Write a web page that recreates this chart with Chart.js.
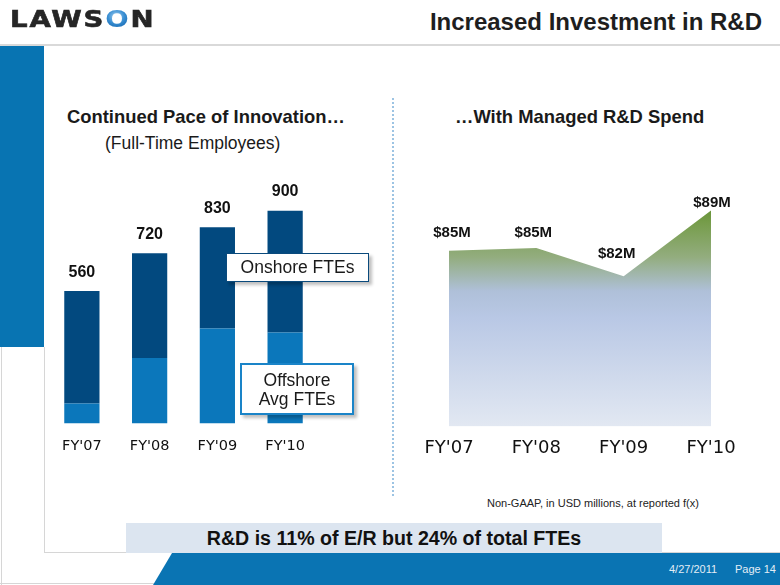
<!DOCTYPE html>
<html>
<head>
<meta charset="utf-8">
<script src="https://cdn.jsdelivr.net/npm/chart.js@4.4.0/dist/chart.umd.min.js"></script>
<style>
  html, body { margin: 0; padding: 0; }
  body { width: 780px; height: 585px; position: relative; overflow: hidden; background: #fff;
         font-family: "Liberation Sans", Arial, sans-serif; color: #1a1a1a; }
  .abs { position: absolute; }
  #logo { left: 10px; top: 6px; font: bold 23px "DejaVu Sans", sans-serif; letter-spacing: 1.5px; color: #262626;
          -webkit-text-stroke: 0.6px #262626; transform: scaleX(1.2); transform-origin: 0 0; }
  #logo span { background: radial-gradient(circle at 45% 40%, #a9d3f2 0%, #3a8fd3 35%, #1467b0 65%, #0b4d8c 100%);
               -webkit-background-clip: text; background-clip: text; color: transparent; -webkit-text-stroke: 0; }
  #title { right: 18px; top: 8px; font: bold 24px "Liberation Sans", Arial, sans-serif; color: #1e1e1e; }
  #hline { left: 0; top: 44px; width: 780px; height: 2px; background: #d9d9d9; }
  #sidebar { left: 0; top: 46px; width: 44px; height: 301px; background: #0874b2; }
  .gline { background: #d6d6d6; }
  #divider { left: 392px; top: 98px; height: 398px; border-left: 2px dotted #9dc4e3; }
  .head { font: bold 18.4px "Liberation Sans", Arial, sans-serif; color: #1a1a1a; }
  .box { background: #fff; text-align: center; font: 17.5px "Liberation Sans", Arial, sans-serif; color: #1a1a1a;
         box-shadow: 3px 3px 3px rgba(0,0,0,0.25); box-sizing: border-box; }
  #banner { left: 126px; top: 523px; width: 536px; height: 30px; background: #dce5f0; text-align: center;
            font: bold 19.6px "Liberation Sans", Arial, sans-serif; line-height: 31px; color: #111; }
  #footer { left: 150px; top: 553px; width: 630px; height: 32px; background: #0a74b3;
            clip-path: polygon(22px 0, 100% 0, 100% 100%, 3px 100%); }
  .foot { top: 563px; font: 11px "Liberation Sans", Arial, sans-serif; color: #e3edf6; }
</style>
</head>
<body>
<div id="logo" class="abs">LAWS<span>O</span>N</div>
<div id="title" class="abs">Increased Investment in R&amp;D</div>
<div id="hline" class="abs"></div>
<div id="sidebar" class="abs"></div>
<div class="abs gline" style="left:1px;top:347px;width:1px;height:238px"></div>
<div class="abs gline" style="left:44px;top:347px;width:1px;height:206px"></div>
<div class="abs gline" style="left:44px;top:552px;width:736px;height:1px"></div>
<div class="abs gline" style="left:0;top:583px;width:155px;height:1px"></div>
<div id="divider" class="abs"></div>

<div class="abs head" style="left:67px;top:106px">Continued Pace of Innovation…</div>
<div class="abs" style="left:105px;top:133px;font:17.5px 'Liberation Sans',Arial,sans-serif">(Full-Time Employees)</div>
<div class="abs head" style="left:455px;top:106px">…With Managed R&amp;D Spend</div>

<canvas id="fteChart" class="abs" width="310" height="325" style="left:30px;top:150px"></canvas>
<canvas id="spendChart" class="abs" width="360" height="314" style="left:400px;top:160px"></canvas>

<div class="abs box" style="left:226px;top:253px;width:143px;height:29px;line-height:27px;border:1.5px solid #0a4a7c">Onshore FTEs</div>
<div class="abs box" style="left:240px;top:363px;width:114px;height:52px;line-height:19px;padding-top:6px;border:2px solid #1a84c8">Offshore<br>Avg FTEs</div>

<div class="abs" style="left:487px;top:497px;font:11px 'Liberation Sans',Arial,sans-serif;color:#222">Non-GAAP, in USD millions, at reported f(x)</div>

<div id="footer" class="abs"></div>
<div id="banner" class="abs">R&amp;D is 11% of E/R but 24% of total FTEs</div>
<div class="abs foot" style="left:669px">4/27/2011</div>
<div class="abs foot" style="left:735px">Page 14</div>

<script>
/* ─── Data ─── */
const YEARS         = ["FY'07", "FY'08", "FY'09", "FY'10"];
const OFFSHORE_FTES = [85, 277, 402, 385];
const ONSHORE_FTES  = [475, 443, 428, 515];
const RD_SPEND      = [84.7, 85.0, 82.0, 89.0];   // USD millions

/* ─── Totals above the stacked bars ─── */
const totalsPlugin = {
  id: 'totals',
  afterDatasetsDraw(chart) {
    const { ctx } = chart;
    const top = chart.getDatasetMeta(chart.data.datasets.length - 1);
    ctx.save();
    ctx.font = 'bold 16px "Liberation Sans", Arial, sans-serif';
    ctx.fillStyle = '#111';
    ctx.textAlign = 'center';
    ctx.textBaseline = 'middle';
    top.data.forEach((bar, i) => {
      const total = chart.data.datasets.reduce((s, d) => s + d.data[i], 0);
      ctx.fillText(total, bar.x, bar.y - 19);
    });
    ctx.restore();
  },
};

/* ─── Value labels on the spend area ─── */
const spendLabels = {
  id: 'spendLabels',
  afterDatasetsDraw(chart, args, opts) {
    const { ctx } = chart;
    const meta = chart.getDatasetMeta(0);
    ctx.save();
    ctx.font = 'bold 15px "Liberation Sans", Arial, sans-serif';
    ctx.fillStyle = '#111';
    ctx.textAlign = 'center';
    ctx.textBaseline = 'middle';
    meta.data.forEach((pt, i) => {
      const v = chart.data.datasets[0].data[i];
      ctx.fillText('$' + Math.round(v) + 'M', pt.x + opts.dx[i], pt.y - opts.dy[i]);
    });
    ctx.restore();
  },
};

function spendGradient(context) {
  const { chart } = context;
  const area = chart.chartArea;
  if (!area) return '#b6c6e4';
  const g = chart.ctx.createLinearGradient(0, area.top, 0, area.bottom);
  g.addColorStop(0.00, '#5f8f2c');
  g.addColorStop(0.10, '#779d4c');
  g.addColorStop(0.25, '#93ad7f');
  g.addColorStop(0.40, '#afc0d9');
  g.addColorStop(0.52, '#b9c8e5');
  g.addColorStop(1.00, '#e2e8f2');
  return g;
}

/* ─── FTE stacked bars ─── */
new Chart(document.getElementById('fteChart'), {
  type: 'bar',
  data: {
    labels: YEARS,
    datasets: [
      { label: 'Offshore Avg FTEs', data: OFFSHORE_FTES, backgroundColor: '#0b77bb' },
      { label: 'Onshore FTEs',      data: ONSHORE_FTES,  backgroundColor: '#02497f' },
    ],
  },
  options: {
    responsive: false,
    animation: false,
    layout: { padding: { left: 18, right: 21, top: 37, bottom: 6 } },
    datasets: { bar: { categoryPercentage: 1, barPercentage: 0.52 } },
    plugins: { legend: { display: false }, tooltip: { enabled: false } },
    scales: {
      x: {
        stacked: true,
        grid: { display: false, drawTicks: false },
        border: { display: false },
        ticks: { font: { family: 'DejaVu Sans', size: 14.5 }, color: '#111', padding: 14 },
      },
      y: { stacked: true, display: false, min: 0, max: 1000 },
    },
  },
  plugins: [totalsPlugin],
});

/* ─── R&D spend area ─── */
new Chart(document.getElementById('spendChart'), {
  type: 'line',
  data: {
    labels: YEARS,
    datasets: [{
      data: RD_SPEND,
      fill: 'start',
      backgroundColor: spendGradient,
      borderColor: 'transparent',
      borderWidth: 0,
      pointRadius: 0,
      tension: 0,
    }],
  },
  options: {
    responsive: false,
    animation: false,
    layout: { padding: { left: 49, right: 49, top: 41, bottom: 4 } },
    plugins: {
      legend: { display: false },
      tooltip: { enabled: false },
      spendLabels: { dx: [3, -3, -7, 1], dy: [18, 15, 22, 8] },
    },
    scales: {
      x: {
        offset: false,
        grid: { display: false, drawTicks: false },
        border: { display: false },
        ticks: { font: { family: 'DejaVu Sans', size: 18 }, color: '#111', padding: 11 },
      },
      y: { display: false, min: 66, max: 90 },
    },
  },
  plugins: [spendLabels],
});
</script>
</body>
</html>
